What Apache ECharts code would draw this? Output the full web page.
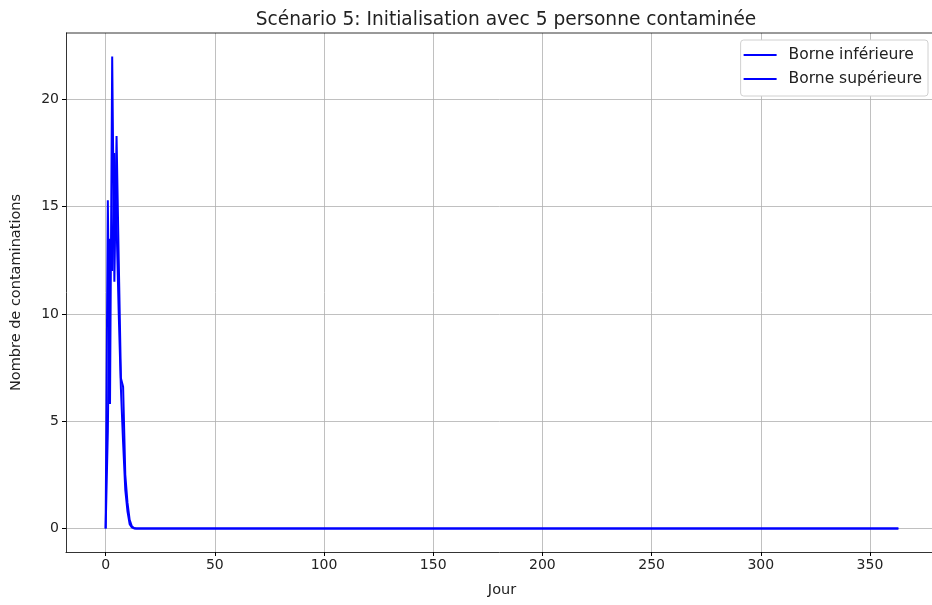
<!DOCTYPE html>
<html><head><meta charset="utf-8">
<script src="https://cdn.jsdelivr.net/npm/echarts@6/dist/echarts.min.js"></script>
<style>html,body{margin:0;padding:0;background:#fff}#c{width:932px;height:605px}</style>
</head><body><div id="c"></div>
<script>
const title = "Scénario 5: Initialisation avec 5 personne contaminée";
const seriesNames = ["Borne inférieure", "Borne supérieure"];
const xTicks = [0, 50, 100, 150, 200, 250, 300, 350];
const yTicks = [0, 5, 10, 15, 20];
const nDays = 364;
// values read for the first days; afterwards the curves stay at 0
const lowerStart = [0, 4.5, 13.5, 12.0, 17.5, 14.2, 10.0, 6.5, 4.0, 1.8, 0.8, 0.2, 0.05, 0];
const upperStart = [0, 15.3, 5.8, 22.0, 11.5, 18.3, 12.5, 7.0, 6.6, 2.5, 1.2, 0.4, 0.1, 0.02, 0];
const days = Array.from({length: nDays}, (_, i) => i);
function full(start) { return days.map(d => [d, d < start.length ? start[d] : 0]); }
const lower = full(lowerStart);
const upper = full(upperStart);

const chart = echarts.init(document.getElementById('c'));
const font = 'DejaVu Sans';
const gridLine = {show: true, lineStyle: {color: '#b0b0b0', width: 0.8}};
chart.setOption({
  animation: false,
  textStyle: {fontFamily: font},
  title: {text: title, left: 501, top: 6, textAlign: 'center',
    textStyle: {fontFamily: font, fontSize: 18.6, fontWeight: 'normal', color: '#222'}},
  grid: {left: 66, right: -6, top: 33, bottom: 53, outerBoundsMode: 'none', containLabel: false},
  legend: {
    data: seriesNames, orient: 'vertical', right: 4, top: 40,
    icon: 'rect', itemWidth: 33, itemHeight: 2, itemGap: 8,
    backgroundColor: '#fff', borderColor: '#d0d0d0', borderWidth: 1, borderRadius: 3,
    padding: [7, 6, 9, 3],
    textStyle: {fontFamily: font, fontSize: 15.5, lineHeight: 16, color: '#222', padding: [0, 0, 0, 7]}
  },
  xAxis: {
    type: 'value', min: -18.15, max: 381.15, name: 'Jour', nameLocation: 'middle', nameGap: 31,
    nameTextStyle: {fontFamily: font, fontSize: 14.5, color: '#222'},
    axisLine: {show: true, onZero: false, lineStyle: {color: '#000', width: 0.8}},
    axisTick: {show: true, length: 4, customValues: xTicks, lineStyle: {color: '#000'}},
    axisLabel: {customValues: xTicks, fontSize: 14, color: '#222', margin: 6},
    splitLine: gridLine
  },
  yAxis: {
    type: 'value', min: -1.1, max: 23.1, name: 'Nombre de contaminations', nameLocation: 'middle', nameGap: 42,
    nameTextStyle: {fontFamily: font, fontSize: 14.5, color: '#222'},
    axisLine: {show: true, onZero: false, lineStyle: {color: '#000', width: 0.8}},
    axisTick: {show: true, length: 4, customValues: yTicks, lineStyle: {color: '#000'}},
    axisLabel: {customValues: yTicks, fontSize: 14, color: '#222', margin: 7},
    splitLine: gridLine
  },
  series: [
    {name: seriesNames[0], type: 'line', data: lower, showSymbol: false, color: '#0000ff', lineStyle: {width: 2}},
    {name: seriesNames[1], type: 'line', data: upper, showSymbol: false, color: '#0000ff', lineStyle: {width: 2}}
  ]
});
// top spine
chart.setOption({graphic: [{type: 'line', shape: {x1: 66, y1: 33, x2: 932, y2: 33}, style: {stroke: '#000', lineWidth: 0.8}, silent: true, z: 10}]});
</script></body></html>
